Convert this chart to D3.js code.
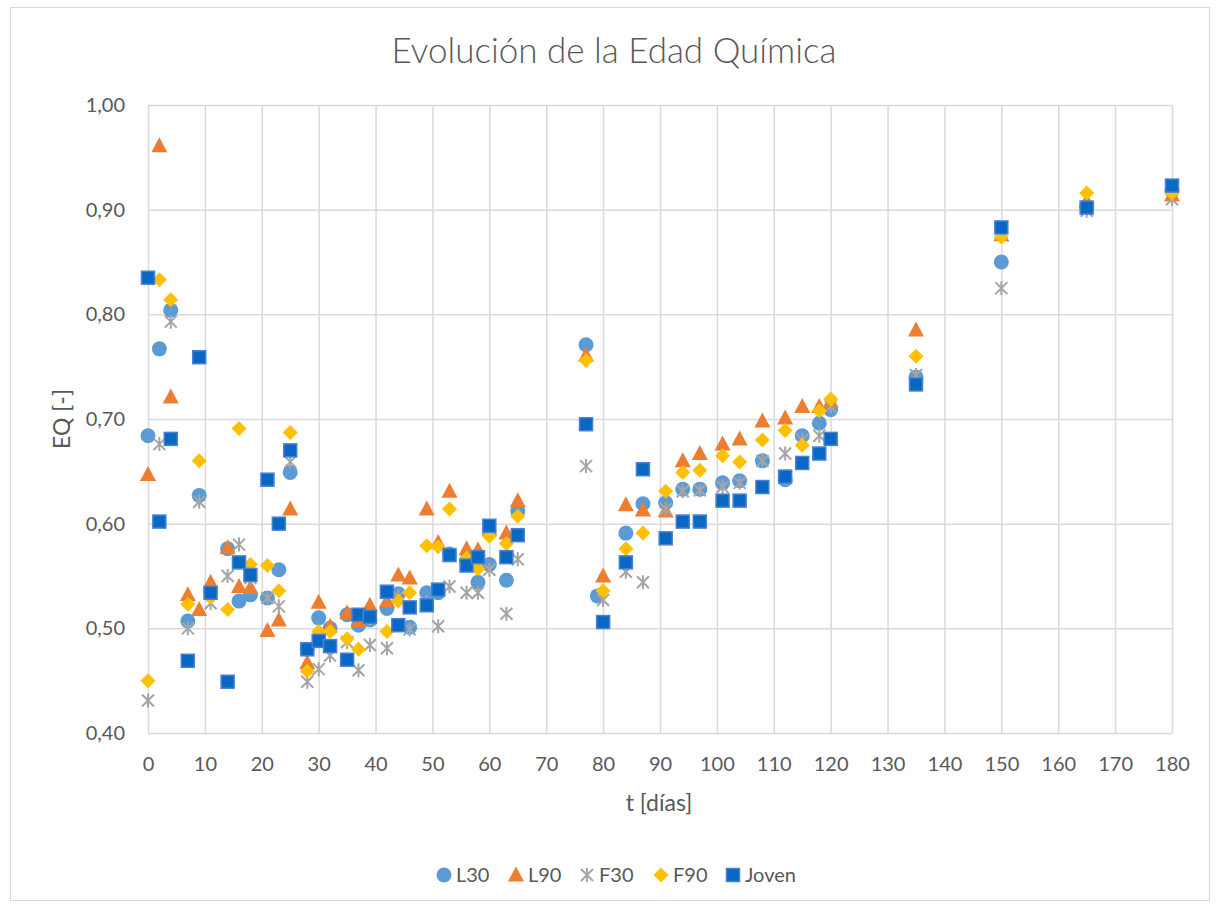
<!DOCTYPE html>
<html>
<head>
<meta charset="utf-8">
<script src="https://cdn.jsdelivr.net/npm/d3@7"></script>
<style>
  html, body { margin: 0; padding: 0; background: #ffffff; }
  svg { display: block; }
  text { font-family: "Lato", "Open Sans", "DejaVu Sans", sans-serif; fill: #595959; }
</style>
</head>
<body>
<svg id="chart" width="1220" height="909"></svg>
<script>
// Sampling days (t [días]); L30 has its 80-day sample taken on day 79
const dias = [0, 2, 4, 7, 9, 11, 14, 16, 18, 21, 23, 25, 28, 30, 32, 35, 37, 39, 42, 44, 46, 49, 51, 53, 56, 58, 60, 63, 65, 77, 80, 84, 87, 91, 94, 97, 101, 104, 108, 112, 115, 118, 120, 135, 150, 165, 180];
const diasL30 = [0, 2, 4, 7, 9, 11, 14, 16, 18, 21, 23, 25, 28, 30, 32, 35, 37, 39, 42, 44, 46, 49, 51, 53, 56, 58, 60, 63, 65, 77, 79, 84, 87, 91, 94, 97, 101, 104, 108, 112, 115, 118, 120, 135, 150, 165, 180];

// Chemical age EQ [-] per series
const L30 = [0.684, 0.767, 0.804, 0.507, 0.627, 0.535, 0.576, 0.526, 0.532, 0.529, 0.556, 0.649, 0.480, 0.510, 0.500, 0.513, 0.503, 0.508, 0.519, 0.533, 0.501, 0.534, 0.534, 0.571, 0.565, 0.544, 0.561, 0.546, 0.612, 0.771, 0.531, 0.591, 0.619, 0.620, 0.633, 0.633, 0.639, 0.641, 0.660, 0.642, 0.684, 0.696, 0.709, 0.740, 0.850, 0.903, 0.918];
const L90 = [0.647, 0.961, 0.721, 0.532, 0.518, 0.544, 0.577, 0.540, 0.539, 0.498, 0.508, 0.614, 0.467, 0.525, 0.502, 0.515, 0.507, 0.522, 0.526, 0.551, 0.548, 0.614, 0.582, 0.631, 0.576, 0.575, 0.595, 0.591, 0.622, 0.761, 0.550, 0.618, 0.613, 0.612, 0.660, 0.667, 0.676, 0.681, 0.698, 0.701, 0.712, 0.712, 0.717, 0.785, 0.876, 0.908, 0.914];
const F30 = [0.431, 0.676, 0.793, 0.500, 0.621, 0.524, 0.550, 0.580, 0.548, 0.529, 0.521, 0.659, 0.449, 0.461, 0.474, 0.487, 0.460, 0.484, 0.481, 0.530, 0.499, 0.525, 0.502, 0.540, 0.534, 0.534, 0.556, 0.514, 0.566, 0.655, 0.527, 0.554, 0.544, 0.614, 0.631, 0.632, 0.635, 0.639, 0.660, 0.667, 0.680, 0.684, 0.712, 0.742, 0.825, 0.899, 0.910];
const F90 = [0.450, 0.833, 0.814, 0.523, 0.660, 0.530, 0.518, 0.691, 0.561, 0.560, 0.536, 0.687, 0.459, 0.497, 0.497, 0.490, 0.480, 0.510, 0.497, 0.526, 0.534, 0.579, 0.578, 0.614, 0.567, 0.557, 0.588, 0.581, 0.607, 0.756, 0.536, 0.576, 0.591, 0.631, 0.649, 0.651, 0.665, 0.659, 0.680, 0.689, 0.675, 0.708, 0.719, 0.760, 0.874, 0.916, 0.916];
const Joven = [0.835, 0.602, 0.681, 0.469, 0.759, 0.534, 0.449, 0.563, 0.551, 0.642, 0.600, 0.670, 0.480, 0.488, 0.483, 0.470, 0.513, 0.511, 0.535, 0.503, 0.520, 0.522, 0.537, 0.570, 0.560, 0.568, 0.598, 0.568, 0.589, 0.695, 0.506, 0.563, 0.652, 0.586, 0.602, 0.602, 0.622, 0.622, 0.635, 0.645, 0.658, 0.667, 0.681, 0.733, 0.883, 0.902, 0.923];

const xTicks = [0, 10, 20, 30, 40, 50, 60, 70, 80, 90, 100, 110, 120, 130, 140, 150, 160, 170, 180];
const yTicks = [0.40, 0.50, 0.60, 0.70, 0.80, 0.90, 1.00];

const titulo = "Evolución de la Edad Química";
const tituloX = "t [días]";
const tituloY = "EQ [-]";

const series = [
  { name: "L30", x: diasL30, y: L30, shape: "circle", fill: "#5B9BD5", stroke: "#5B9BD5" },
  { name: "L90", x: dias, y: L90, shape: "triangle", fill: "#ED7D31", stroke: "#ED7D31" },
  { name: "F30", x: dias, y: F30, shape: "star", fill: "none", stroke: "#A5A5A5" },
  { name: "F90", x: dias, y: F90, shape: "diamond", fill: "#FFC000", stroke: "#FFC000" },
  { name: "Joven", x: dias, y: Joven, shape: "square", fill: "#0868C4", stroke: "#4A80D4" }
];

const svg = d3.select("#chart");
const plot = { left: 148, right: 1172, top: 105, bottom: 733 };

// Chart frame
svg.append("rect")
  .attr("x", 10.5).attr("y", 7.5)
  .attr("width", 1199).attr("height", 893)
  .attr("fill", "#ffffff").attr("stroke", "#d9d9d9").attr("stroke-width", 1);

const x = d3.scaleLinear().domain([0, 180]).range([plot.left, plot.right]);
const y = d3.scaleLinear().domain([0.40, 1.00]).range([plot.bottom, plot.top]);
const fmt = v => d3.format(".2f")(v).replace(".", ",");

// Gridlines
const gridX = svg.append("g")
  .attr("transform", `translate(0,${plot.bottom})`)
  .call(d3.axisBottom(x).tickValues(xTicks).tickSize(-(plot.bottom - plot.top)).tickFormat(""));
const gridY = svg.append("g")
  .attr("transform", `translate(${plot.left},0)`)
  .call(d3.axisLeft(y).tickValues(yTicks).tickSize(-(plot.right - plot.left)).tickFormat(""));
[gridX, gridY].forEach(g => {
  g.select(".domain").remove();
  g.selectAll(".tick line").attr("stroke", "#d9d9d9").attr("stroke-width", 1.5);
});

// Axis labels
const axX = svg.append("g")
  .attr("transform", `translate(0,${plot.bottom})`)
  .call(d3.axisBottom(x).tickValues(xTicks).tickSize(0).tickPadding(32).tickFormat(d3.format("d")));
const axY = svg.append("g")
  .attr("transform", `translate(${plot.left},0)`)
  .call(d3.axisLeft(y).tickValues(yTicks).tickSize(0).tickPadding(23).tickFormat(fmt));
[axX, axY].forEach(g => {
  g.select(".domain").remove();
  g.selectAll(".tick text").attr("font-size", 20).attr("fill", "#595959")
    .style("font-family", '"Lato", "Open Sans", sans-serif');
});
axX.selectAll(".tick text").attr("dy", "0.32em");

// Titles
svg.append("text")
  .attr("x", 614).attr("y", 63)
  .attr("text-anchor", "middle")
  .attr("font-size", 35).attr("font-weight", 300)
  .text(titulo);
svg.append("text")
  .attr("x", 659).attr("y", 811)
  .attr("text-anchor", "middle")
  .attr("font-size", 23)
  .text(tituloX);
svg.append("text")
  .attr("transform", `translate(70,${(plot.top + plot.bottom) / 2}) rotate(-90)`)
  .attr("text-anchor", "middle")
  .attr("font-size", 23)
  .text(tituloY);

// Marker shapes
function drawMarker(g, s) {
  if (s.shape === "circle") {
    g.append("circle").attr("r", 7.5).attr("fill", s.fill);
  } else if (s.shape === "triangle") {
    g.append("path").attr("d", "M0,-8.5L8,6.5L-8,6.5Z").attr("fill", s.fill);
  } else if (s.shape === "diamond") {
    g.append("path").attr("d", "M0,-7.5L7.5,0L0,7.5L-7.5,0Z").attr("fill", s.fill);
  } else if (s.shape === "square") {
    g.append("rect").attr("x", -6.5).attr("y", -6.5).attr("width", 13).attr("height", 13)
      .attr("fill", s.fill).attr("stroke", s.stroke).attr("stroke-width", 1.5);
  } else if (s.shape === "star") {
    g.append("path").attr("d", "M0,-7L0,7M-6,-6L6,6M6,-6L-6,6")
      .attr("fill", "none").attr("stroke", s.stroke).attr("stroke-width", 2);
  }
}

// Data points
series.forEach(s => {
  const pts = s.x.map((d, i) => ({ t: d, v: s.y[i] }));
  svg.append("g").attr("class", "serie-" + s.name)
    .selectAll("g")
    .data(pts)
    .join("g")
    .attr("transform", d => `translate(${x(d.t)},${y(d.v)})`)
    .each(function () { drawMarker(d3.select(this), s); });
});

// Legend
const legendPos = [444, 516, 587, 661, 733];
const legend = svg.append("g").attr("transform", "translate(0,875)");
series.forEach((s, i) => {
  const g = legend.append("g").attr("transform", `translate(${legendPos[i]},0)`);
  drawMarker(g, s);
  g.append("text").attr("x", 12).attr("y", 0).attr("dy", "0.35em")
    .attr("font-size", 20).text(s.name);
});
</script>
</body>
</html>
